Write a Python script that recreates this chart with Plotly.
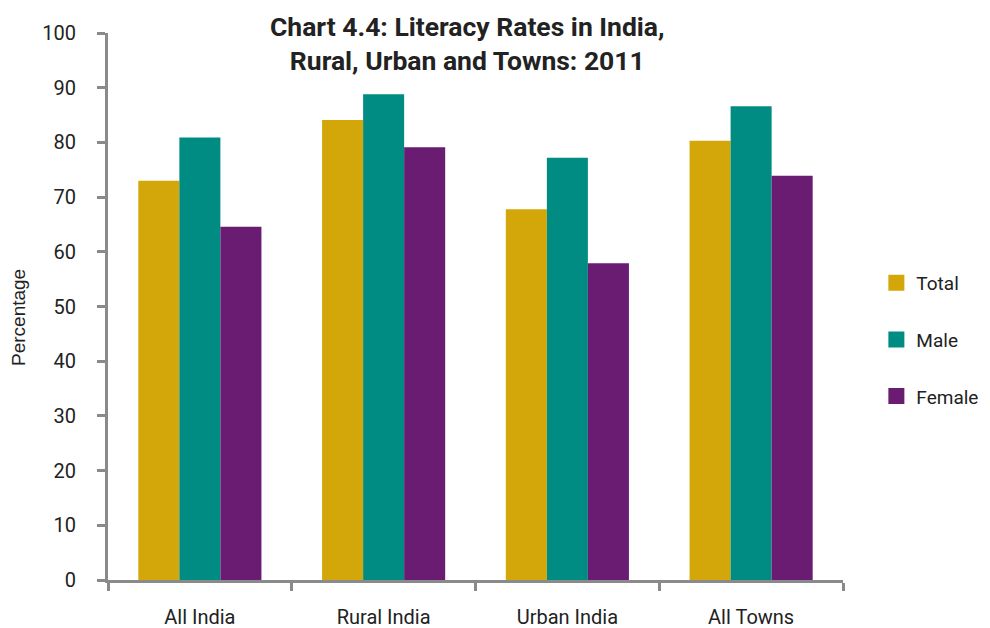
import plotly.graph_objects as go

categories = ["All India", "Rural India", "Urban India", "All Towns"]
total = [73.0, 84.1, 67.8, 80.3]
male = [80.9, 88.8, 77.2, 86.6]
female = [64.6, 79.1, 57.9, 73.9]
y_ticks = [0, 10, 20, 30, 40, 50, 60, 70, 80, 90, 100]

series = [("Total", total, "#D3A70A"), ("Male", male, "#008C82"), ("Female", female, "#6A1B72")]

fig = go.Figure()
for name, vals, col in series:
    fig.add_trace(go.Bar(x=categories, y=vals, name=name, showlegend=False,
                         marker=dict(color=col, line=dict(width=0))))
for name, vals, col in series:
    fig.add_trace(go.Scatter(x=[None], y=[None], mode="markers", name=name, legendgroup=name,
                             marker=dict(symbol="square", size=17, color=col)))

# page has an 8px body margin, so figure is 8px smaller and offsets compensate
W, H = 982, 620
L, R, T, B = 100, 147, 25, 48
pw = W - L - R
ph = H - T - B

axis_col = "#8a8a8a"
fig.update_layout(
    width=W, height=H,
    paper_bgcolor="white", plot_bgcolor="white",
    margin=dict(l=L, r=R, t=T, b=B, autoexpand=False),
    barmode="group", bargap=0.33, bargroupgap=0,
    font=dict(family="Roboto, Noto Sans, sans-serif", size=20, color="#222"),
    legend=dict(x=1.0454, xanchor="left", y=0.439, yanchor="middle",
                font=dict(size=19, color="#222"), tracegroupgap=29,
                itemsizing="trace", bgcolor="rgba(0,0,0,0)"),
    showlegend=True,
    annotations=[
        dict(text="<b>Chart 4.4: Literacy Rates in India,<br>Rural, Urban and Towns: 2011</b>",
             xref="paper", yref="paper", x=(459 - L) / pw, y=(H - B - 35.5) / ph,
             xanchor="center", yanchor="middle", showarrow=False,
             font=dict(family="Liberation Sans Narrow, Roboto, sans-serif", size=26.5, color="#222")),
        dict(text="Percentage", textangle=-90,
             xref="paper", yref="paper", x=(10 - L) / pw, y=(H - B - 310) / ph,
             xanchor="center", yanchor="middle", showarrow=False,
             font=dict(family="Liberation Sans, Arial, sans-serif", size=19, color="#222")),
    ],
)
fig.update_xaxes(showline=True, linecolor=axis_col, linewidth=3, automargin=False,
                 ticks="outside", tickson="boundaries", ticklen=8, tickwidth=3, tickcolor=axis_col,
                 showgrid=False, tickfont=dict(size=20, color="#222"), ticklabelstandoff=17)
fig.update_yaxes(range=[0, 100], tickvals=y_ticks, showline=True, linecolor=axis_col, linewidth=3,
                 automargin=False,
                 ticks="outside", ticklen=8, tickwidth=3, tickcolor=axis_col,
                 showgrid=False, zeroline=False, tickfont=dict(size=20, color="#222"),
                 ticklabelstandoff=17)

fig.write_html("out.html")
